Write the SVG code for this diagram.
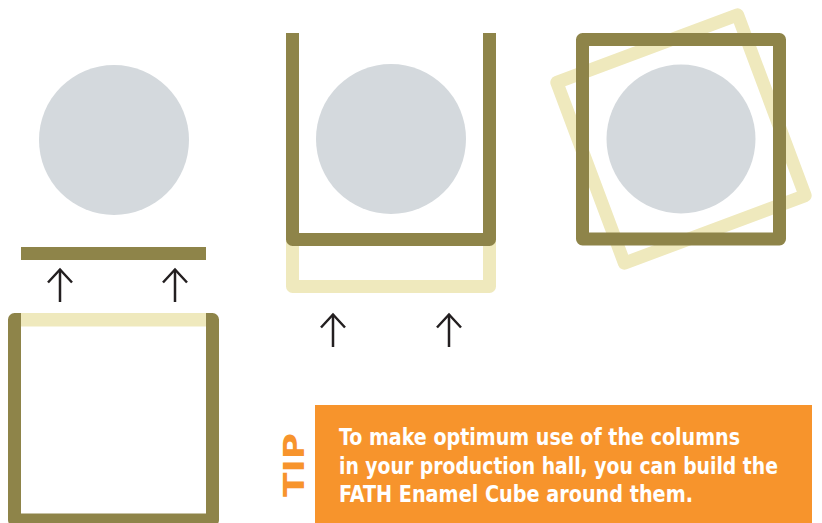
<svg xmlns="http://www.w3.org/2000/svg" width="822" height="523" viewBox="0 0 822 523">
  <defs>
    <style>
      .olive{fill:none;stroke:#8e8449;stroke-width:13;stroke-linejoin:round}
      .light{fill:none;stroke:#efe9bd;stroke-width:13;stroke-linejoin:round}
      .col{fill:#d4d9dd}
      .arr{fill:none;stroke:#231f20;stroke-width:2.5}
      .tip{font-family:"DejaVu Sans Condensed","Roboto",sans-serif;font-weight:bold;font-size:23px;fill:#ffffff}
    </style>
    <marker id="open" markerUnits="userSpaceOnUse" orient="auto" markerWidth="30" markerHeight="30" refX="0" refY="0" viewBox="-15 -15 30 30" overflow="visible">
      <path d="M-13,-12 L0,0 L-13,12" fill="none" stroke="#231f20" stroke-width="2.5"/>
    </marker>
  </defs>
  <rect width="822" height="523" fill="#ffffff"/>

  <g id="panel-left">
    <circle class="col" cx="114" cy="140" r="75"/>
    <rect x="21" y="247" width="185" height="13" fill="#8e8449"/>
    <rect class="olive" x="14.5" y="319.5" width="198" height="200.5"/>
    <rect x="21" y="313" width="185" height="13.5" fill="#efe9bd"/>
  </g>

  <g id="panel-middle">
    <path class="light" d="M292.5,200 V286.5 H489.5 V200"/>
    <path class="olive" d="M292.5,33 V239.5 H489.5 V33"/>
    <circle class="col" cx="391" cy="139" r="75"/>
  </g>

  <g id="panel-right">
    <rect class="light" x="584.5" y="42.5" width="193" height="193" transform="rotate(-20.5 681 139)"/>
    <rect class="olive" x="582.5" y="39.5" width="197" height="199.5"/>
    <circle class="col" cx="681" cy="139" r="74.5"/>
  </g>

  <g id="connectors">
    <line class="arr" x1="60" y1="302" x2="60" y2="269.5" marker-end="url(#open)"/>
    <line class="arr" x1="175" y1="302" x2="175" y2="269.5" marker-end="url(#open)"/>
    <line class="arr" x1="333" y1="347" x2="333" y2="314.5" marker-end="url(#open)"/>
    <line class="arr" x1="449" y1="347" x2="449" y2="314.5" marker-end="url(#open)"/>
  </g>

  <g id="tip">
    <text transform="translate(304,497) rotate(-90)" x="0" y="0" font-family="'DejaVu Sans Condensed','Roboto',sans-serif" font-weight="bold" font-size="29" fill="#f7942c" textLength="64" lengthAdjust="spacingAndGlyphs">TIP</text>
    <rect x="315" y="405" width="497" height="118" fill="#f7942c"/>
    <text class="tip" x="339" y="445" textLength="401" lengthAdjust="spacingAndGlyphs">To make optimum use of the columns</text>
    <text class="tip" x="339" y="474" textLength="439" lengthAdjust="spacingAndGlyphs">in your production hall, you can build the</text>
    <text class="tip" x="339" y="502" textLength="354" lengthAdjust="spacingAndGlyphs">FATH Enamel Cube around them.</text>
  </g>
</svg>
